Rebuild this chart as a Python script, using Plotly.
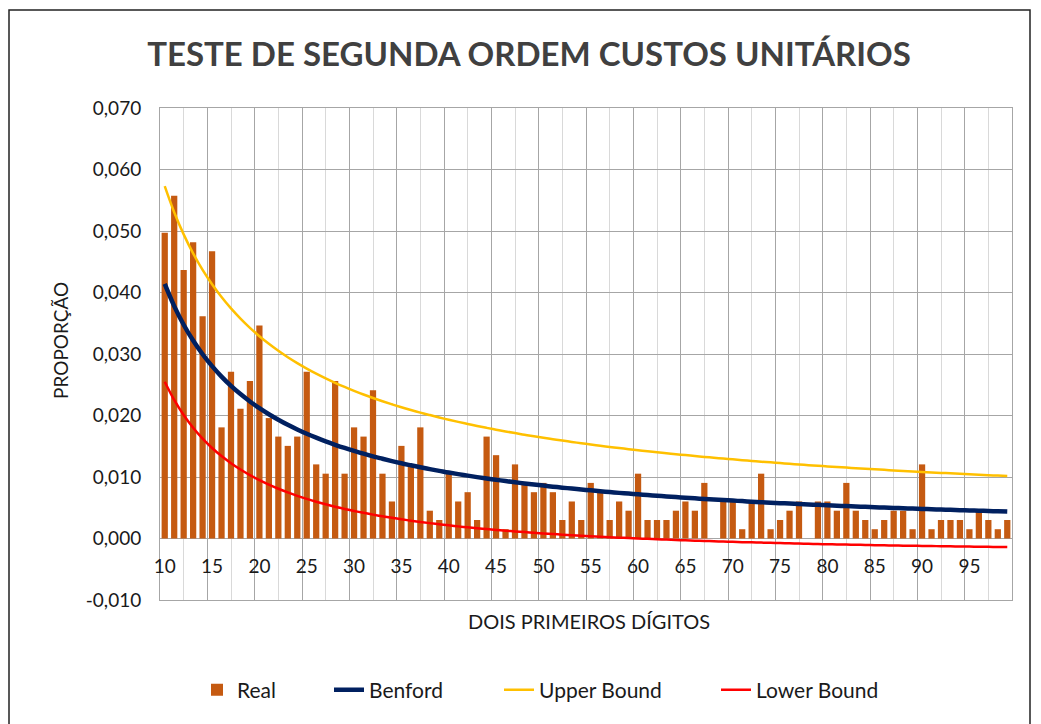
import plotly.graph_objects as go

# ---------------- data ----------------
DIGITS = list(range(10, 100))

REAL = [0.04970, 0.05572, 0.04367, 0.04819, 0.03614, 0.04669, 0.01807, 0.02711, 0.02108, 0.02560,
        0.03464, 0.01958, 0.01657, 0.01506, 0.01657, 0.02711, 0.01205, 0.01054, 0.02560, 0.01054,
        0.01807, 0.01657, 0.02410, 0.01054, 0.00602, 0.01506, 0.01205, 0.01807, 0.00452, 0.00301,
        0.01054, 0.00602, 0.00753, 0.00301, 0.01657, 0.01355, 0.00151, 0.01205, 0.00904, 0.00753,
        0.00904, 0.00753, 0.00301, 0.00602, 0.00301, 0.00904, 0.00753, 0.00301, 0.00602, 0.00452,
        0.01054, 0.00301, 0.00301, 0.00301, 0.00452, 0.00602, 0.00452, 0.00904, 0.00000, 0.00602,
        0.00602, 0.00151, 0.00602, 0.01054, 0.00151, 0.00301, 0.00452, 0.00602, 0.00000, 0.00602,
        0.00602, 0.00452, 0.00904, 0.00452, 0.00301, 0.00151, 0.00301, 0.00452, 0.00452, 0.00151,
        0.01205, 0.00151, 0.00301, 0.00301, 0.00301, 0.00151, 0.00452, 0.00301, 0.00151, 0.00301]

BENFORD = [0.04139, 0.03779, 0.03476, 0.03218, 0.02996, 0.02803, 0.02633, 0.02482, 0.02348, 0.02228,
           0.02119, 0.02020, 0.01931, 0.01848, 0.01773, 0.01703, 0.01639, 0.01579, 0.01524, 0.01472,
           0.01424, 0.01379, 0.01336, 0.01297, 0.01259, 0.01223, 0.01190, 0.01158, 0.01128, 0.01100,
           0.01072, 0.01047, 0.01022, 0.00998, 0.00976, 0.00955, 0.00934, 0.00914, 0.00896, 0.00877,
           0.00860, 0.00843, 0.00827, 0.00812, 0.00797, 0.00783, 0.00769, 0.00755, 0.00742, 0.00730,
           0.00718, 0.00706, 0.00695, 0.00684, 0.00673, 0.00663, 0.00653, 0.00643, 0.00634, 0.00625,
           0.00616, 0.00608, 0.00599, 0.00591, 0.00583, 0.00575, 0.00568, 0.00561, 0.00554, 0.00547,
           0.00540, 0.00533, 0.00527, 0.00521, 0.00515, 0.00509, 0.00503, 0.00497, 0.00492, 0.00486,
           0.00481, 0.00476, 0.00471, 0.00466, 0.00461, 0.00456, 0.00452, 0.00447, 0.00443, 0.00438]

UPPER = [0.05730, 0.05305, 0.04945, 0.04636, 0.04368, 0.04134, 0.03926, 0.03741, 0.03575, 0.03425,
         0.03290, 0.03166, 0.03052, 0.02948, 0.02852, 0.02763, 0.02680, 0.02603, 0.02531, 0.02464,
         0.02401, 0.02341, 0.02285, 0.02232, 0.02182, 0.02135, 0.02090, 0.02047, 0.02007, 0.01968,
         0.01931, 0.01896, 0.01862, 0.01830, 0.01799, 0.01769, 0.01741, 0.01714, 0.01687, 0.01662,
         0.01638, 0.01614, 0.01592, 0.01570, 0.01549, 0.01528, 0.01508, 0.01489, 0.01471, 0.01453,
         0.01435, 0.01418, 0.01402, 0.01386, 0.01371, 0.01356, 0.01341, 0.01327, 0.01313, 0.01300,
         0.01287, 0.01274, 0.01261, 0.01249, 0.01238, 0.01226, 0.01215, 0.01204, 0.01193, 0.01183,
         0.01172, 0.01163, 0.01153, 0.01143, 0.01134, 0.01125, 0.01116, 0.01107, 0.01099, 0.01091,
         0.01082, 0.01074, 0.01067, 0.01059, 0.01051, 0.01044, 0.01037, 0.01030, 0.01023, 0.01016]

LOWER = [0.02549, 0.02253, 0.02008, 0.01801, 0.01624, 0.01472, 0.01340, 0.01224, 0.01121, 0.01030,
         0.00948, 0.00875, 0.00809, 0.00749, 0.00694, 0.00644, 0.00598, 0.00556, 0.00517, 0.00481,
         0.00448, 0.00417, 0.00388, 0.00361, 0.00336, 0.00312, 0.00290, 0.00269, 0.00250, 0.00231,
         0.00214, 0.00197, 0.00182, 0.00167, 0.00153, 0.00140, 0.00127, 0.00115, 0.00104, 0.00093,
         0.00082, 0.00073, 0.00063, 0.00054, 0.00045, 0.00037, 0.00029, 0.00021, 0.00014, 0.00007,
         0.00001, -0.00006, -0.00012, -0.00018, -0.00024, -0.00030, -0.00035, -0.00040, -0.00045, -0.00050,
         -0.00054, -0.00059, -0.00063, -0.00067, -0.00071, -0.00075, -0.00079, -0.00083, -0.00086, -0.00090,
         -0.00093, -0.00096, -0.00099, -0.00102, -0.00105, -0.00108, -0.00111, -0.00113, -0.00116, -0.00118,
         -0.00121, -0.00123, -0.00125, -0.00127, -0.00130, -0.00132, -0.00134, -0.00136, -0.00138, -0.00140]

X_TICK_VALS = [10, 15, 20, 25, 30, 35, 40, 45, 50, 55, 60, 65, 70, 75, 80, 85, 90, 95]
X_TICK_TEXT = ["10", "15", "20", "25", "30", "35", "40", "45", "50", "55",
               "60", "65", "70", "75", "80", "85", "90", "95"]
Y_TICK_VALS = [-0.01, 0.0, 0.01, 0.02, 0.03, 0.04, 0.05, 0.06, 0.07]
Y_TICK_TEXT = ["-0,010", "0,000", "0,010", "0,020", "0,030", "0,040", "0,050", "0,060", "0,070"]

TITLE = "TESTE DE SEGUNDA ORDEM CUSTOS UNITÁRIOS"
X_TITLE = "DOIS PRIMEIROS DÍGITOS"
Y_TITLE = "PROPORÇÃO"

# ---------------- figure ----------------
FONT = "Lato"
OFF = 8                      # browser body margin
W, H = 1041, 724
PLOT_L, PLOT_R, PLOT_T, PLOT_B = 160, 1012, 108, 600   # page pixel box of plot area
PW, PH = PLOT_R - PLOT_L, PLOT_B - PLOT_T


def px_x(px):
    return (px - PLOT_L) / PW


def px_y(py):
    return (PLOT_B - py) / PH


fig = go.Figure()

fig.add_trace(go.Bar(
    x=DIGITS, y=REAL, name="Real", width=0.66,
    marker=dict(color="#C55A11", line=dict(width=0)),
    xaxis="x", yaxis="y", legend="legend",
))
fig.add_trace(go.Scatter(
    x=DIGITS, y=BENFORD, name="Benford", mode="lines",
    line=dict(color="#002060", width=4.5, shape="spline"),
    xaxis="x2", yaxis="y", legend="legend2",
))
fig.add_trace(go.Scatter(
    x=DIGITS, y=UPPER, name="Upper Bound", mode="lines",
    line=dict(color="#FFC000", width=2.5, shape="spline"),
    xaxis="x2", yaxis="y", legend="legend3",
))
fig.add_trace(go.Scatter(
    x=DIGITS, y=LOWER, name="Lower Bound", mode="lines",
    line=dict(color="#FF0000", width=2.5, shape="spline"),
    xaxis="x2", yaxis="y", legend="legend4",
))

grid_major = "#A6A6A6"
grid_minor = "#D9D9D9"
txt = "#1a1a1a"


def leg(text_px):
    return dict(orientation="h", x=px_x(text_px - 41), xanchor="left",
                y=px_y(690), yanchor="middle", bgcolor="rgba(0,0,0,0)",
                font=dict(family=FONT, size=21, color=txt))


fig.update_layout(
    width=W, height=H,
    margin=dict(l=PLOT_L - OFF, r=W - (PLOT_R - OFF), t=PLOT_T - OFF, b=H - (PLOT_B - OFF), pad=0),
    paper_bgcolor="white", plot_bgcolor="white",
    font=dict(family=FONT, size=19, color=txt),
    title=dict(text="<b>" + TITLE + "</b>", x=(529 - OFF) / W, xanchor="center",
               y=1 - (54 - OFF) / H, yanchor="middle", yref="container",
               font=dict(family=FONT, size=33, color="#404040")),
    showlegend=True,
    legend=leg(238),
    legend2=leg(370),
    legend3=leg(540),
    legend4=leg(757),
    xaxis=dict(
        range=[9.5, 99.5], showticklabels=False, ticks="",
        tick0=9.5, dtick=5, showgrid=True, gridcolor=grid_major, gridwidth=1,
        minor=dict(dtick=2.5, tick0=9.5, showgrid=True, gridcolor=grid_minor, gridwidth=1),
        zeroline=False, showline=True, linecolor=grid_major, mirror=True,
    ),
    xaxis2=dict(
        range=[9.5, 99.5], overlaying="x", anchor="free", position=0.125,
        side="bottom", tickmode="array", tickvals=X_TICK_VALS, ticktext=X_TICK_TEXT,
        ticks="outside", ticklen=11, tickcolor="rgba(0,0,0,0)",
        showgrid=False, zeroline=False, showline=False,
        tickfont=dict(family=FONT, size=19, color=txt),
    ),
    yaxis=dict(
        range=[-0.01, 0.07], tickmode="array", tickvals=Y_TICK_VALS, ticktext=Y_TICK_TEXT,
        ticks="outside", ticklen=14, tickcolor="rgba(0,0,0,0)",
        showgrid=True, gridcolor=grid_major, gridwidth=1, zeroline=False,
        showline=True, linecolor=grid_major, mirror=True,
        tickfont=dict(family=FONT, size=19, color=txt),
    ),
    annotations=[
        dict(text=X_TITLE, x=px_x(589), y=px_y(621), xref="paper", yref="paper",
             xanchor="center", yanchor="middle", showarrow=False,
             font=dict(family=FONT, size=20, color=txt)),
        dict(text=Y_TITLE, x=px_x(60), y=px_y(341), xref="paper", yref="paper",
             xanchor="center", yanchor="middle", showarrow=False, textangle=-90,
             font=dict(family=FONT, size=19, color=txt)),
    ],
    shapes=[
        dict(type="rect", xref="paper", yref="paper",
             x0=px_x(9), x1=px_x(1030), y0=px_y(760), y1=px_y(10),
             line=dict(color="#222222", width=1.5), fillcolor="rgba(0,0,0,0)", layer="below"),
    ],
)

fig.write_html("out.html")
